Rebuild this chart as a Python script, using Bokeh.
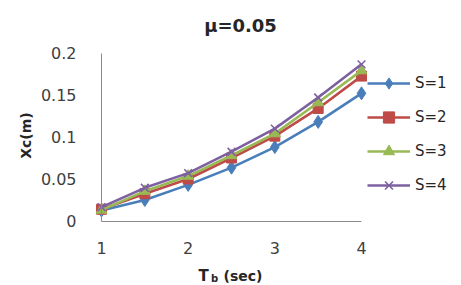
from bokeh.plotting import figure
from bokeh.models import Range1d, FixedTicker, Legend, LegendItem, Label
from bokeh.embed import file_html
from bokeh.resources import INLINE
import math

# ---- data ----
tb = [1, 1.5, 2, 2.5, 3, 3.5, 4]
s1 = [0.0125, 0.025, 0.043, 0.0635, 0.088, 0.118, 0.152]
s2 = [0.014, 0.0325, 0.050, 0.075, 0.101, 0.134, 0.1725]
s3 = [0.013, 0.0355, 0.0535, 0.078, 0.104, 0.141, 0.179]
s4 = [0.0165, 0.0395, 0.057, 0.0825, 0.110, 0.147, 0.1865]
series_names = ["S=1", "S=2", "S=3", "S=4"]
x_ticks = [1, 2, 3, 4]
y_ticks = [0, 0.05, 0.1, 0.15, 0.2]
y_tick_labels = ["0", "0.05", "0.1", "0.15", "0.2"]
title_text = "μ=0.05"
y_label = "Xc(m)"
x_label_main, x_label_sub, x_label_unit = "T", "b", "(sec)"

colors = ["#4A7EBB", "#BE4B48", "#98B954", "#7D60A0"]
markers = ["diamond", "square", "triangle", "x"]
sizes = [13, 10, 11, 11]

FONT = "DejaVu Sans"
W, H = 461, 285
# pixel layout of the plotting area (x=1 -> 101px, x=4 -> 361px; y=0 -> 220.5px, y=0.2 -> 52.5px)
px_per_x = (361 - 101) / 3.0
px_per_y = (220.5 - 52.5) / 0.2
x0 = 1 - 101 / px_per_x
x1 = 4 + (W - 361) / px_per_x
y1 = 0.2 + 52.5 / px_per_y
y0 = 0 - (H - 220.5) / px_per_y

p = figure(width=W, height=H, output_backend="svg", toolbar_location=None,
           x_range=Range1d(x0, x1), y_range=Range1d(y0, y1),
           min_border=0, min_border_left=0, min_border_right=0,
           min_border_top=0, min_border_bottom=0)
p.title.visible = False
p.outline_line_color = None
p.grid.visible = False
p.background_fill_color = "white"
p.border_fill_color = "white"

# axes placed at data locations
for ax in (p.xaxis[0], p.yaxis[0]):
    ax.major_tick_line_color = None
    ax.minor_tick_line_color = None
    ax.major_label_text_font = FONT
    ax.major_label_text_font_size = "16px"
    ax.major_label_text_color = "#404040"
    ax.axis_line_color = "#8C8C8C"
p.xaxis.fixed_location = 0
p.xaxis.ticker = FixedTicker(ticks=x_ticks)
p.xaxis.bounds = (x_ticks[0], x_ticks[-1])
p.xaxis.major_label_standoff = 15
p.yaxis.fixed_location = x_ticks[0]
p.yaxis.ticker = FixedTicker(ticks=y_ticks)
p.yaxis.bounds = (y_ticks[0], y_ticks[-1])
p.yaxis.major_label_overrides = {t: l for t, l in zip(y_ticks, y_tick_labels)}
p.yaxis.major_label_standoff = 19

items = []
for ys, name, c, m, sz in zip([s1, s2, s3, s4], series_names, colors, markers, sizes):
    l = p.line(tb, ys, line_color=c, line_width=2.6)
    if m == "x":
        s = p.scatter(tb, ys, marker=m, size=sz, line_color=c, line_width=1.6)
    else:
        s = p.scatter(tb, ys, marker=m, size=sz, fill_color=c, line_color=c)
    items.append(LegendItem(label=name, renderers=[l, s]))

legend = Legend(items=items, location=(367, 86), border_line_color=None,
                background_fill_alpha=0, padding=10, margin=0, spacing=6,
                glyph_width=43, glyph_height=28, label_height=20, label_standoff=5,
                label_text_font=FONT, label_text_font_size="15px", label_text_color="#262626")
p.add_layout(legend, "center")

# title and axis labels (screen units, from the bottom-left corner)
def lab(x, y, text, size, **kw):
    p.add_layout(Label(x=x, y=y, x_units="screen", y_units="screen", text=text,
                       text_font=FONT, text_font_size=size, text_font_style="bold",
                       text_color="#262626", **kw))

lab(240, H - 25, title_text, "18px", text_align="center", text_baseline="alphabetic")
lab(25, H - 135, y_label, "14px", angle=math.pi / 2, text_align="center", text_baseline="middle")
lab(198, H - 275, x_label_main, "15px", text_align="left", text_baseline="alphabetic")
lab(210.5, H - 278, x_label_sub, "10px", text_align="left", text_baseline="alphabetic")
lab(223, H - 275, x_label_unit, "14px", text_align="left", text_baseline="alphabetic")

open("out.html", "w").write(file_html(p, INLINE))
